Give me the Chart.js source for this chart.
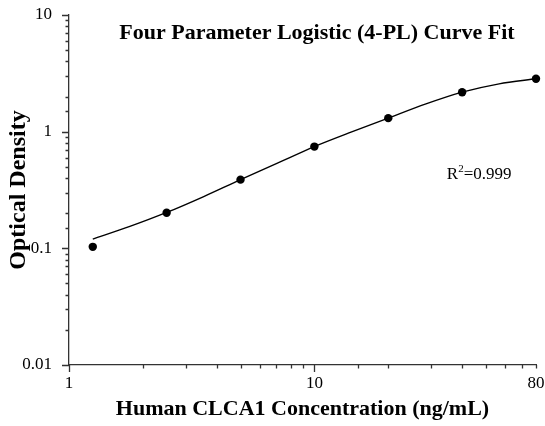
<!DOCTYPE html>
<html>
<head>
<meta charset="utf-8">
<script src="https://cdn.jsdelivr.net/npm/chart.js@4"></script>
<style>
  html, body { margin: 0; padding: 0; background: #fff; }
  #wrap { width: 545px; height: 426px; }
</style>
</head>
<body>
<div id="wrap"><canvas id="fitChart"></canvas></div>
<script>
const CONC = [1.25, 2.5, 5, 10, 20, 40, 80];
const OD = [0.103, 0.202, 0.388, 0.745, 1.306, 2.18, 2.84];

const FIT_CONC = [1.25, 1.77, 2.5, 3.54, 5, 7.07, 10, 14.1, 20, 28.3, 40, 56.6, 80];
const FIT_OD = [0.120, 0.154, 0.203, 0.278, 0.388, 0.537, 0.745, 0.99, 1.306, 1.72, 2.18, 2.57, 2.84];

const X_LABELS = [1, 10, 80];
const X_MAJOR = [1, 10];
const Y_LABELS = ['0.01', '0.1', '1', '10'];

const TITLE = 'Four Parameter Logistic (4-PL) Curve Fit';
const R2_VALUE = '0.999';

const SERIF = "'Liberation Serif', 'Times New Roman', serif";

function near(a, b) {
    return Math.abs(Math.log10(a) - Math.log10(b)) < 1e-6;
}

const tickMarks = {
    id: 'tickMarks',
    afterDraw(chart) {
        const { ctx } = chart;
        const xs = chart.scales.x, ys = chart.scales.y;
        ctx.save();
        ctx.strokeStyle = '#333';
        ctx.lineWidth = 1.3;
        ctx.beginPath();
        xs.ticks.forEach(t => {
            const px = Math.round(xs.getPixelForValue(t.value)) + 0.5;
            const len = X_MAJOR.some(v => near(v, t.value)) ? 7 : 3.5;
            ctx.moveTo(px, xs.top);
            ctx.lineTo(px, xs.top + len);
        });
        ys.ticks.forEach(t => {
            const py = Math.round(ys.getPixelForValue(t.value)) + 0.5;
            const len = Y_LABELS.some(v => near(+v, t.value)) ? 7 : 3.5;
            ctx.moveTo(ys.right, py);
            ctx.lineTo(ys.right - len, py);
        });
        ctx.stroke();
        ctx.restore();
    }
};

const textLabels = {
    id: 'textLabels',
    afterDraw(chart) {
        const { ctx, chartArea: a } = chart;
        ctx.save();
        ctx.fillStyle = '#000';
        // title sits inside the plot area
        ctx.font = 'bold 22px ' + SERIF;
        ctx.textAlign = 'center';
        ctx.textBaseline = 'alphabetic';
        ctx.fillText(TITLE, a.left + 0.531 * (a.right - a.left), a.top + 24);

        // R² annotation
        ctx.textAlign = 'left';
        let x = a.left + 0.809 * (a.right - a.left);
        const y = a.top + 164;
        ctx.font = '17px ' + SERIF;
        ctx.fillText('R', x, y);
        x += ctx.measureText('R').width;
        ctx.font = '11px ' + SERIF;
        ctx.fillText('2', x, y - 7);
        x += ctx.measureText('2').width;
        ctx.font = '17px ' + SERIF;
        ctx.fillText('=' + R2_VALUE, x, y);
        ctx.restore();
    }
};

new Chart(document.getElementById('fitChart'), {
    type: 'scatter',
    data: {
        datasets: [
            {
                label: 'Fit',
                data: FIT_CONC.map((c, i) => ({ x: c, y: FIT_OD[i] })),
                showLine: true,
                borderColor: '#000',
                borderWidth: 1.4,
                pointRadius: 0,
                tension: 0.3,
                fill: false,
                order: 2
            },
            {
                label: 'Standards',
                data: CONC.map((c, i) => ({ x: c, y: OD[i] })),
                backgroundColor: '#000',
                borderColor: '#000',
                pointRadius: 4.2,
                pointBorderWidth: 0,
                clip: false,
                order: 1
            }
        ]
    },
    options: {
        responsive: true,
        maintainAspectRatio: false,
        animation: false,
        layout: { padding: { top: 15, right: 9, left: 0, bottom: 0 } },
        plugins: {
            legend: { display: false },
            tooltip: { enabled: false }
        },
        scales: {
            x: {
                type: 'logarithmic',
                min: 1,
                max: 80,
                grid: { display: false, drawTicks: false },
                border: { display: true, color: '#333', width: 1.3 },
                ticks: {
                    padding: 8,
                    color: '#000',
                    font: { family: SERIF, size: 17 },
                    maxRotation: 0,
                    autoSkip: false,
                    callback: v => X_LABELS.some(l => near(l, v)) ? String(X_LABELS.find(l => near(l, v))) : ''
                },
                title: {
                    display: true,
                    text: 'Human CLCA1 Concentration (ng/mL)',
                    color: '#000',
                    font: { family: SERIF, size: 22, weight: 'bold' },
                    padding: { bottom: 3 }
                },
                afterFit: s => { s.height = 61; s.paddingLeft = 0; s.paddingRight = 0; }
            },
            y: {
                type: 'logarithmic',
                min: 0.01,
                max: 10,
                grid: { display: false, drawTicks: false },
                border: { display: true, color: '#333', width: 1.3 },
                ticks: {
                    padding: 17,
                    color: '#000',
                    font: { family: SERIF, size: 17 },
                    autoSkip: false,
                    callback: v => {
                        const l = Y_LABELS.find(s => near(+s, v));
                        return l || '';
                    }
                },
                title: {
                    display: true,
                    text: 'Optical Density',
                    color: '#000',
                    font: { family: SERIF, size: 24, weight: 'bold' },
                    padding: { top: 4 }
                },
                afterFit: s => { s.width = 69; s.paddingTop = 0; s.paddingBottom = 0; }
            }
        }
    },
    plugins: [tickMarks, textLabels]
});
</script>
</body>
</html>
